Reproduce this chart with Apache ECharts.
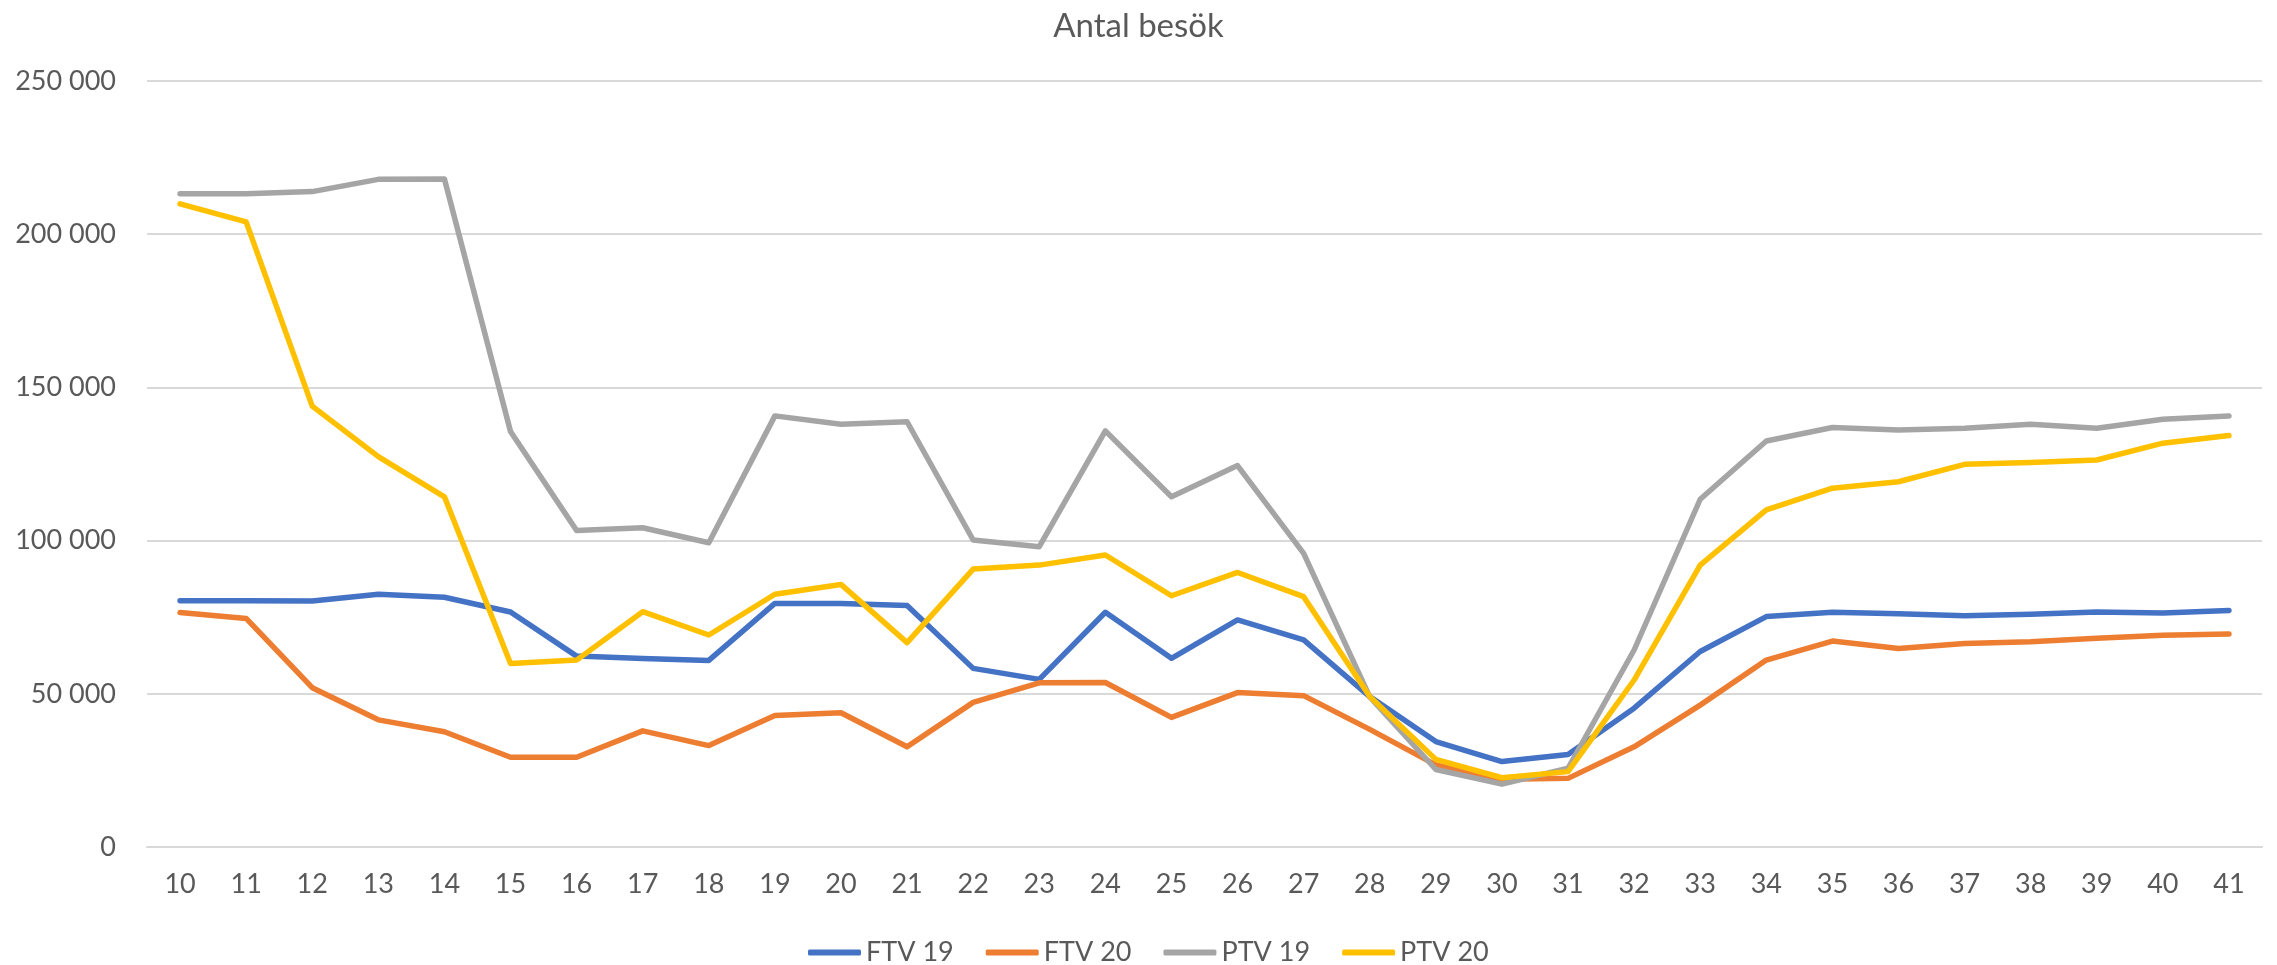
<!DOCTYPE html>
<html>
<head>
    <meta charset="utf-8" />
    <title>Antal besök</title>
    <script src="https://cdn.jsdelivr.net/npm/echarts@6/dist/echarts.min.js"></script>
    <style>
        html, body { margin: 0; padding: 0; background: #fff; }
        #main { width: 2277px; height: 965px; }
    </style>
</head>
<body>
    <div id="main"></div>
    <script type="text/javascript">
        // veckor
        var weeks = ['10', '11', '12', '13', '14', '15', '16', '17', '18', '19', '20', '21', '22', '23', '24', '25',
                     '26', '27', '28', '29', '30', '31', '32', '33', '34', '35', '36', '37', '38', '39', '40', '41'];

        var ftv19 = [80400, 80400, 80300, 82500, 81500, 76700, 62300, 61500, 60900, 79500, 79500, 78800, 58300, 54700, 76600, 61600,
                     74100, 67600, 49100, 34400, 27900, 30200, 45300, 63800, 75200, 76600, 76100, 75500, 76000, 76700, 76400, 77200];
        var ftv20 = [76500, 74600, 52000, 41500, 37600, 29300, 29300, 37900, 33100, 42900, 43800, 32700, 47200, 53600, 53700, 42300,
                     50400, 49400, 38400, 26800, 22100, 22400, 32700, 46300, 61000, 67200, 64800, 66400, 67000, 68100, 69100, 69500];
        var ptv19 = [213200, 213200, 213900, 217900, 218000, 135600, 103300, 104200, 99300, 140700, 138000, 138800, 100200, 98000, 135800, 114300,
                     124500, 95800, 49000, 25300, 20500, 25700, 64300, 113500, 132500, 136900, 136100, 136700, 138000, 136700, 139600, 140700];
        var ptv20 = [209900, 204000, 143900, 127400, 114300, 59900, 61000, 76800, 69200, 82500, 85700, 66700, 90700, 92000, 95300, 82000,
                     89600, 81700, 49100, 28600, 22600, 24600, 54500, 92000, 110000, 117100, 119200, 124900, 125500, 126300, 131800, 134300];

        var seriesNames = ['FTV 19', 'FTV 20', 'PTV 19', 'PTV 20'];
        var seriesData = [ftv19, ftv20, ptv19, ptv20];
        var colors = ['#4472C4', '#ED7D31', '#A5A5A5', '#FFC000'];

        var font = 'Lato';
        var textColor = '#595959';

        function fmt(v) {
            return String(v).replace(/\B(?=(\d{3})+(?!\d))/g, ' ');
        }

        var myChart = echarts.init(document.getElementById('main'));
        var option = {
            backgroundColor: '#ffffff',
            animation: false,
            color: colors,
            title: {
                text: 'Antal besök',
                left: 'center',
                top: 5,
                textStyle: { fontFamily: font, fontSize: 33, fontWeight: 'normal', color: textColor }
            },
            legend: {
                data: seriesNames,
                left: 803,
                top: 934,
                icon: 'roundRect',
                itemWidth: 53,
                itemHeight: 6,
                itemGap: 32,
                textStyle: { fontFamily: font, fontSize: 27, color: textColor }
            },
            grid: { left: 147, right: 15, top: 81, bottom: 118, containLabel: false },
            xAxis: {
                type: 'category',
                data: weeks,
                boundaryGap: true,
                axisLine: { show: true, lineStyle: { color: '#D9D9D9', width: 2 } },
                axisTick: { show: false },
                axisLabel: { fontFamily: font, fontSize: 27, color: textColor, margin: 24, interval: 0 }
            },
            yAxis: {
                type: 'value',
                min: 0,
                max: 250000,
                interval: 50000,
                axisLine: { show: false },
                axisTick: { show: false },
                splitLine: { lineStyle: { color: '#D9D9D9', width: 2 } },
                axisLabel: { fontFamily: font, fontSize: 27, color: textColor, margin: 31, formatter: fmt }
            },
            series: seriesNames.map(function (name, i) {
                return {
                    name: name,
                    type: 'line',
                    data: seriesData[i],
                    symbol: 'none',
                    lineStyle: { width: 5.5, color: colors[i], cap: 'round', join: 'round' },
                    itemStyle: { color: colors[i] }
                };
            })
        };
        myChart.setOption(option);
    </script>
</body>
</html>
